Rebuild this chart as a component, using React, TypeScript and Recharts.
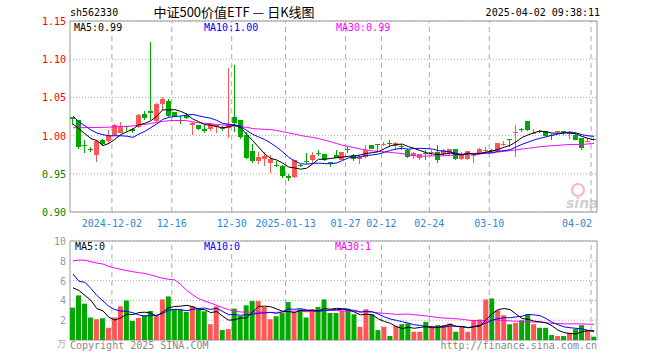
import React from 'react';
import { ComposedChart, Bar, Line, XAxis, YAxis, CartesianGrid, ReferenceLine, ReferenceArea, Cell } from 'recharts';

const dates = [
  '2024-11-21','2024-11-22','2024-11-25','2024-11-26','2024-11-27','2024-11-28','2024-11-29',
  '2024-12-02','2024-12-03','2024-12-04','2024-12-05','2024-12-06','2024-12-09','2024-12-10','2024-12-11','2024-12-12','2024-12-13',
  '2024-12-16','2024-12-17','2024-12-18','2024-12-19','2024-12-20','2024-12-23','2024-12-24','2024-12-25','2024-12-26','2024-12-27',
  '2024-12-30','2024-12-31','2025-01-02','2025-01-03','2025-01-06','2025-01-07','2025-01-08','2025-01-09','2025-01-10',
  '2025-01-13','2025-01-14','2025-01-15','2025-01-16','2025-01-17','2025-01-20','2025-01-21','2025-01-22','2025-01-23','2025-01-24',
  '2025-01-27','2025-02-05','2025-02-06','2025-02-07','2025-02-10','2025-02-11',
  '2025-02-12','2025-02-13','2025-02-14','2025-02-17','2025-02-18','2025-02-19','2025-02-20','2025-02-21',
  '2025-02-24','2025-02-25','2025-02-26','2025-02-27','2025-02-28','2025-03-03','2025-03-04','2025-03-05','2025-03-06','2025-03-07',
  '2025-03-10','2025-03-11','2025-03-12','2025-03-13','2025-03-14','2025-03-17','2025-03-18','2025-03-19','2025-03-20','2025-03-21',
  '2025-03-24','2025-03-25','2025-03-26','2025-03-27','2025-03-28','2025-03-31','2025-04-01','2025-04-02',
];

const opens = [
  1.0237, 1.0198, 0.988, 0.9825, 0.9751, 0.9937, 0.9925, 1.0003, 1.0034, 1.0125,
  1.009, 1.0111, 1.0289, 1.0328, 1.0185, 1.0415, 1.0458, 1.0306, 1.021, 1.0263,
  1.0133, 1.0133, 1.0081, 1.009, 1.0111, 1.0111, 1.0105, 1.025, 1.02, 1.0012,
  0.9794, 0.9664, 0.969, 0.9638, 0.962, 0.9599, 0.9465, 0.946, 0.9615, 0.9668,
  0.9677, 0.9776, 0.9755, 0.9658, 0.9742, 0.9686, 0.9822, 0.9751, 0.9695, 0.972,
  0.9872, 0.9887, 0.9892, 0.9904, 0.9863, 0.9862, 0.9807, 0.9733, 0.9712, 0.9774,
  0.9778, 0.9785, 0.9755, 0.9772, 0.982, 0.969, 0.969, 0.9736, 0.9764, 0.9805,
  0.9809, 0.9798, 0.9892, 0.9949, 1.003, 1.0092, 1.0185, 1.0036, 1.0057, 1.0055,
  1.0014, 1.0058, 1.0062, 1.0036, 1.0003, 0.9967, 0.9926, 0.9962,
];
const highs = [
  1.025, 1.0205, 0.9937, 0.985, 0.994, 0.995, 1.0068, 1.0146, 1.0176, 1.013,
  1.0098, 1.0285, 1.0328, 1.1227, 1.0432, 1.05, 1.0484, 1.031, 1.026, 1.0298,
  1.0175, 1.014, 1.0133, 1.017, 1.014, 1.012, 1.088, 1.0923, 1.021, 1.0046,
  0.9894, 0.9785, 0.9785, 0.9742, 0.9664, 0.961, 0.95, 0.968, 0.963, 0.9777,
  0.9785, 0.9816, 0.976, 0.966, 0.9816, 0.979, 0.9863, 0.976, 0.975, 0.9872,
  0.988, 0.989, 0.992, 0.9937, 0.9912, 0.9894, 0.9825, 0.978, 0.976, 0.9807,
  0.981, 0.9872, 0.9825, 0.9825, 0.9825, 0.9785, 0.98, 0.976, 0.9835, 0.985,
  0.983, 0.9905, 0.9928, 0.995, 1.0133, 1.0095, 1.019, 1.009, 1.007, 1.006,
  1.0016, 1.0064, 1.0064, 1.006, 1.0015, 0.997, 0.9975, 0.997,
];
const lows = [
  1.0142, 0.9824, 0.9777, 0.978, 0.9655, 0.987, 0.9895, 0.9995, 1.003, 1.0066,
  1.0038, 1.0098, 1.0198, 1.021, 1.018, 1.0328, 1.025, 1.024, 1.0155, 1.022,
  1.0003, 1.007, 1.0033, 1.0066, 1.004, 1.006, 0.997, 1.0046, 0.996, 0.97,
  0.9642, 0.963, 0.9603, 0.9504, 0.959, 0.9447, 0.94, 0.944, 0.959, 0.963,
  0.9634, 0.9733, 0.967, 0.959, 0.9705, 0.968, 0.9777, 0.967, 0.9634, 0.971,
  0.982, 0.9785, 0.987, 0.9863, 0.9816, 0.9807, 0.971, 0.97, 0.9677, 0.9677,
  0.9735, 0.9647, 0.973, 0.975, 0.968, 0.9685, 0.968, 0.9642, 0.976, 0.978,
  0.978, 0.979, 0.9863, 0.985, 0.972, 1.0046, 1.0055, 1.002, 1.003, 0.999,
  0.9947, 1.002, 1.0003, 0.996, 0.994, 0.9807, 0.991, 0.995,
];
const closes = [
  1.0217, 0.985, 0.986, 0.9816, 0.9934, 0.9885, 0.9992, 1.0133, 1.0125, 1.0115,
  1.006, 1.0276, 1.0228, 1.0293, 1.0415, 1.048, 1.0263, 1.0246, 1.0185, 1.0228,
  1.0168, 1.0081, 1.0055, 1.0155, 1.0133, 1.0081, 1.015, 1.0168, 0.9983, 0.9707,
  0.9664, 0.972, 0.9733, 0.969, 0.96, 0.9469, 0.945, 0.9677, 0.9605, 0.966,
  0.9742, 0.977, 0.9677, 0.9652, 0.9712, 0.9785, 0.9818, 0.9699, 0.972, 0.9816,
  0.9829, 0.9883, 0.9896, 0.99, 0.9907, 0.9858, 0.972, 0.9777, 0.9755, 0.977,
  0.9782, 0.9677, 0.9807, 0.982, 0.969, 0.9742, 0.9794, 0.9745, 0.9829, 0.981,
  0.9805, 0.9902, 0.9896, 0.9945, 1.005, 1.0088, 1.0068, 1.004, 1.0053, 0.9996,
  1.001, 1.0062, 1.0058, 1.004, 0.9947, 0.9842, 0.993, 0.9958,
];
const volumes = [
  3.27, 4.5, 3.67, 2.27, 2.1, 2.2, 1.23, 2.27, 3.4, 4.0,
  1.93, 2.23, 2.5, 2.93, 2.4, 4.1, 4.4, 3.1, 3.1, 2.83,
  3.4, 3.1, 2.9, 1.6, 3.4, 1.0, 1.1, 3.17, 2.43, 3.5,
  3.93, 3.93, 3.33, 2.1, 2.4, 2.73, 3.83, 2.83, 3.1, 2.27,
  3.1, 3.33, 4.1, 2.73, 2.73, 2.93, 3.1, 2.6, 1.33, 3.1,
  2.6, 1.0, 1.33, 0.4, 1.43, 1.6, 1.67, 0.83, 0.83, 1.83,
  1.43, 1.5, 1.5, 1.67, 0.83, 1.33, 0.83, 2.0, 2.07, 4.1,
  4.2, 3.0, 2.5, 1.6, 1.73, 2.0, 2.6, 1.6, 1.23, 1.23,
  0.5, 0.4, 0.4, 0.73, 1.1, 1.5, 1.0, 0.33,
];

// moving-average values at the left edge (their history lies before the first candle)
const ma5Head = [1.015, 1.009, 1.0025, 0.996];
const ma10Head = [1.0254, 1.018, 1.0129, 1.0073, 1.0033, 1.0012, 0.9998, 0.9998, 0.9998];
const ma30Head = [
  1.0103, 1.0103, 1.0104, 1.0105, 1.0106, 1.0108, 1.011, 1.0116, 1.012, 1.0122,
  1.0126, 1.0138, 1.0145, 1.016, 1.0172, 1.0185, 1.0195, 1.0198, 1.0198, 1.0195,
  1.018, 1.0168, 1.016, 1.0155, 1.0145, 1.014, 1.0133, 1.0126, 1.0115,
];
const vma5Head = [5.27, 5.0, 4.5, 4.0];
const vma10Head = [6.67, 5.93, 5.83, 5.2, 4.5, 3.95, 3.4, 3.07, 2.93];
const vma30Head = [
  8.0, 8.07, 8.07, 7.9, 7.77, 7.67, 7.43, 7.27, 7.13, 7.0,
  6.9, 6.8, 6.73, 6.57, 6.4, 6.23, 6.13, 6.07, 5.6, 5.0,
  4.57, 4.17, 3.93, 3.73, 3.5, 3.27, 3.07, 2.9, 2.83,
];

const tickDates = ['2024-12-02','2024-12-16','2024-12-30','2025-01-13','2025-01-27','2025-02-12','2025-02-24','2025-03-10','2025-04-02'];
const tickLabels = ['2024-12-02','12-16','12-30','2025-01-13','01-27','02-12','02-24','03-10','04-02'];
const priceTicks = [0.9, 0.95, 1.0, 1.05, 1.1, 1.15];
const volTicks = [0, 2, 4, 6, 8, 10];
const priceLegend = ['MA5:0.99', 'MA10:1.00', 'MA30:0.99'];
const volLegend = ['MA5:0', 'MA10:0', 'MA30:1'];

const RED = '#ff5555';
const GREEN = '#00a800';
const BLUE_TXT = '#2a8ad8';
const MONO = 'DejaVu Sans Mono';

function movingAverage(values: number[], n: number, head: number[]) {
  return values.map((_, i) => {
    if (i < n - 1) return head[i];
    let s = 0;
    for (let k = i - n + 1; k <= i; k++) s += values[k];
    return s / n;
  });
}

const ma5 = movingAverage(closes, 5, ma5Head);
const ma10 = movingAverage(closes, 10, ma10Head);
const ma30 = movingAverage(closes, 30, ma30Head);
const vma5 = movingAverage(volumes, 5, vma5Head);
const vma10 = movingAverage(volumes, 10, vma10Head);
const vma30 = movingAverage(volumes, 30, vma30Head);

const data = dates.map((d, i) => ({
  date: d,
  open: opens[i],
  high: highs[i],
  low: lows[i],
  close: closes[i],
  range: [lows[i], highs[i]],
  vol: volumes[i],
  up: closes[i] >= opens[i],
  ma5: ma5[i],
  ma10: ma10[i],
  ma30: ma30[i],
  vma5: vma5[i],
  vma10: vma10[i],
  vma30: vma30[i],
}));

const Candle = (props: any) => {
  const { x, y, width, height, payload } = props;
  if (!payload || height == null) return null;
  const { open, close, high, low, up } = payload;
  const k = height / (high - low);
  const py = (p: number) => y + (high - p) * k;
  const color = up ? RED : GREEN;
  const left = Math.round(x);
  const w = Math.round(width);
  const cx = left + Math.floor(w / 2) + 0.5;
  const top = py(Math.max(open, close));
  const bot = py(Math.min(open, close));
  const bTop = Math.round(top);
  const bH = Math.max(1, Math.round(bot) - bTop);
  return (
    <g>
      <line x1={cx} x2={cx} y1={Math.round(y)} y2={Math.round(y + height)} stroke={color} strokeWidth={1} />
      <rect x={left} y={bTop} width={w} height={bH} fill={color} />
    </g>
  );
};

const DateTick = (props: any) => {
  const { x, y, payload } = props;
  const idx = tickDates.indexOf(payload.value);
  const last = idx === tickDates.length - 1;
  return (
    <text x={x + (last ? -17 : -3)} y={y + 7} textAnchor="middle" fill={BLUE_TXT} fontSize={10} fontFamily={MONO}>
      {tickLabels[idx]}
    </text>
  );
};

const PriceTick = (props: any) => {
  const { x, y, payload } = props;
  const v = payload.value as number;
  return (
    <text x={x + 4} y={y + 4} textAnchor="end" fill={v >= 1 ? '#ff0000' : '#008000'} fontSize={10} fontFamily={MONO}>
      {v.toFixed(2)}
    </text>
  );
};

const VolTick = (props: any) => {
  const { x, y, payload } = props;
  const v = payload.value as number;
  if (v === 0) return null;
  return (
    <text x={x + 4} y={y + 4} textAnchor="end" fill="#999" fontSize={10} fontFamily={MONO}>
      {String(v)}
    </text>
  );
};

export default function App() {
  return (
    <div style={{ position: 'absolute', left: 0, top: 0, width: 660, height: 360, background: '#fff', overflow: 'hidden' }}>
      <div style={{ position: 'absolute', left: 0, top: 0 }}>
        <ComposedChart width={660} height={230} data={data} margin={{ top: 21, right: 63, bottom: 0, left: 0 }}>
          <CartesianGrid vertical={false} stroke="#aaa" strokeDasharray="1 2" />
          {tickDates.map((d) => (
            <ReferenceLine key={d} x={d} position="start" stroke="#aaa" strokeDasharray="5 4" />
          ))}
          <ReferenceArea y1={0.9} y2={1.15} fill="none" stroke="#999" strokeWidth={1} />
          <XAxis dataKey="date" ticks={tickDates} interval={0} tickLine={false} axisLine={false} height={18} tick={<DateTick />} />
          <YAxis domain={[0.9, 1.15]} ticks={priceTicks} interval={0} allowDataOverflow width={70} tickLine={false} axisLine={false} tick={<PriceTick />} />
          <Bar dataKey="range" barSize={5} shape={<Candle />} isAnimationActive={false} />
          <Line dataKey="ma30" stroke="#ff00ff" strokeWidth={1} dot={false} isAnimationActive={false} />
          <Line dataKey="ma10" stroke="#0000ff" strokeWidth={1} dot={false} isAnimationActive={false} />
          <Line dataKey="ma5" stroke="#000000" strokeWidth={1} dot={false} isAnimationActive={false} />
        </ComposedChart>
      </div>
      <div style={{ position: 'absolute', left: 0, top: 230 }}>
        <ComposedChart width={660} height={130} data={data} margin={{ top: 11, right: 63, bottom: 20, left: 0 }}>
          <CartesianGrid vertical={false} stroke="#aaa" strokeDasharray="1 2" />
          {tickDates.map((d) => (
            <ReferenceLine key={d} x={d} position="start" stroke="#aaa" strokeDasharray="5 4" />
          ))}
          <ReferenceArea y1={0} y2={10} fill="none" stroke="#999" strokeWidth={1} />
          <XAxis dataKey="date" hide />
          <YAxis domain={[0, 10]} ticks={volTicks} interval={0} allowDataOverflow width={70} tickLine={false} axisLine={false} tick={<VolTick />} />
          <Bar dataKey="vol" barSize={5} isAnimationActive={false}>
            {data.map((d) => (
              <Cell key={d.date} fill={d.up ? RED : GREEN} />
            ))}
          </Bar>
          <Line dataKey="vma30" stroke="#ff00ff" strokeWidth={1} dot={false} isAnimationActive={false} />
          <Line dataKey="vma10" stroke="#0000ff" strokeWidth={1} dot={false} isAnimationActive={false} />
          <Line dataKey="vma5" stroke="#000000" strokeWidth={1} dot={false} isAnimationActive={false} />
        </ComposedChart>
      </div>
      <svg width={660} height={360} style={{ position: 'absolute', left: 0, top: 0, pointerEvents: 'none' }}>
        <text x={70} y={16} fontSize={10} fontFamily={MONO} fill="#000">sh562330</text>
        <text x={234} y={17} fontSize={13} fontFamily="Noto Sans CJK SC" fill="#000" textAnchor="middle">中证500价值ETF — 日K线图</text>
        <text x={600} y={16} fontSize={10} fontFamily={MONO} fill="#000" textAnchor="end">2025-04-02 09:38:11</text>
        <text x={74} y={31} fontSize={10} fontFamily={MONO} fill="#000">{priceLegend[0]}</text>
        <text x={204} y={31} fontSize={10} fontFamily={MONO} fill="#0000ff">{priceLegend[1]}</text>
        <text x={336} y={31} fontSize={10} fontFamily={MONO} fill="#ff00ff">{priceLegend[2]}</text>
        <text x={75} y={250} fontSize={10} fontFamily={MONO} fill="#000">{volLegend[0]}</text>
        <text x={204} y={250} fontSize={10} fontFamily={MONO} fill="#0000ff">{volLegend[1]}</text>
        <text x={335} y={250} fontSize={10} fontFamily={MONO} fill="#ff00ff">{volLegend[2]}</text>
        <text x={57} y={347} fontSize={9} fontFamily="Noto Sans CJK SC" fill="#aaa">万</text>
        <text x={70} y={349} fontSize={10} fontFamily={MONO} fill="#888">Copyright 2025 SINA.COM</text>
        <text x={597} y={349} fontSize={10} fontFamily={MONO} fill="#888" textAnchor="end">http://finance.sina.com.cn</text>
        <g opacity={0.55}>
          <circle cx={578} cy={190} r={6} fill="none" stroke="#f08080" strokeWidth={2} />
          <text x={566} y={208} fontSize={14} fontStyle="italic" fontWeight="bold" fontFamily="DejaVu Sans" fill="#aaa">sina</text>
        </g>
      </svg>
    </div>
  );
}
